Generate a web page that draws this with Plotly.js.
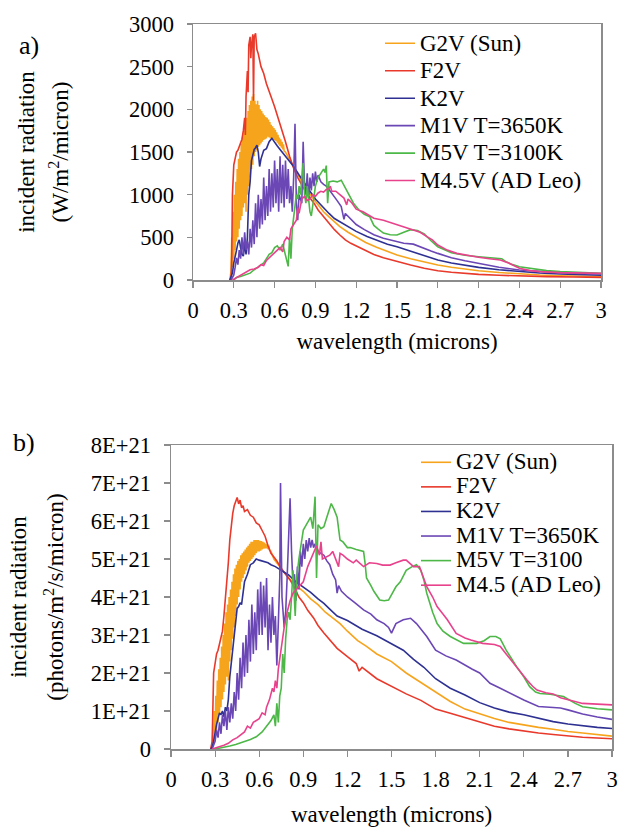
<!DOCTYPE html>
<html>
<head>
<meta charset="utf-8">
<script src="https://cdn.plot.ly/plotly-3.0.1.min.js"></script>
<style>html,body{margin:0;padding:0;background:#fff;}#chart{width:619px;height:827px;}</style>
</head>
<body>
<div id="chart"></div>
<script>
// ---------- series names ----------
const namesA = ['G2V (Sun)', 'F2V', 'K2V', 'M1V T=3650K', 'M5V T=3100K', 'M4.5V (AD Leo)'];
const namesB = ['G2V (Sun)', 'F2V', 'K2V', 'M1V T=3650K', 'M5V T=3100', 'M4.5 (AD Leo)'];

// ---------- panel a) incident radiation, W/m2/micron ----------
const aG2V_x = [0.27,0.280,0.285,0.290,0.295,0.300,0.305,0.310,0.315,0.320,0.325,0.330,0.335,0.340,0.345,0.350,0.355,0.360,0.365,0.370,0.375,0.380,0.385,0.390,0.395,0.400,0.405,0.410,0.415,0.420,0.425,0.430,0.435,0.440,0.445,0.450,0.455,0.460,0.465,0.470,0.475,0.480,0.485,0.490,0.495,0.500,0.505,0.510,0.515,0.520,0.525,0.530,0.535,0.540,0.545,0.550,0.555,0.560,0.565,0.570,0.575,0.580,0.585,0.590,0.595,0.600,0.605,0.610,0.615,0.620,0.625,0.630,0.635,0.640,0.645,0.650,0.655,0.660,0.665,0.670,0.680,0.700,0.72,0.75,0.78,0.81,0.84,0.87,0.90,0.93,0.96,1.00,1.04,1.08,1.14,1.20,1.27,1.35,1.42,1.50,1.60,1.70,1.80,1.90,2.00,2.10,2.25,2.40,2.55,2.70,2.85,3.00];
const aG2V_y = [0,100,500,150,800,250,1000,350,1150,450,1300,500,1420,600,1500,700,1600,750,1680,850,1750,900,1800,800,1900,1000,1980,1100,2050,1200,2100,1300,2150,1350,2180,1450,2100,1500,2060,1520,2100,1560,2050,1580,2000,1600,1980,1620,1950,1640,1930,1650,1910,1660,1900,1680,1880,1670,1850,1660,1820,1650,1800,1650,1780,1640,1760,1630,1730,1610,1700,1590,1670,1570,1650,1550,1620,1530,1590,1510,1500,1440,1380,1290,1200,1120,1050,980,920,860,800,740,680,625,560,500,440,385,340,293,250,210,176,150,128,109,88,70,58,50,44,39];

const aF2V_x = [0.27,0.28,0.285,0.29,0.30,0.31,0.32,0.33,0.34,0.35,0.36,0.37,0.38,0.385,0.39,0.40,0.405,0.41,0.42,0.425,0.43,0.44,0.445,0.45,0.46,0.47,0.48,0.50,0.52,0.54,0.56,0.58,0.60,0.62,0.65,0.68,0.71,0.74,0.77,0.80,0.83,0.86,0.89,0.92,0.95,0.98,1.00,1.04,1.08,1.12,1.16,1.20,1.25,1.33,1.40,1.50,1.60,1.70,1.80,1.90,2.00,2.10,2.25,2.40,2.60,2.80,3.00];
const aF2V_y = [0,0,300,1000,1350,1450,1500,1520,1560,1600,1650,1750,1900,1700,2150,2450,2200,2750,2850,2600,2750,2880,2100,2850,2890,2700,2650,2500,2420,2300,2200,2120,2030,1930,1780,1620,1450,1310,1200,1110,1030,960,900,820,760,700,660,590,527,470,430,400,355,300,260,215,175,137,109,90,76,66,55,47,40,35,31];

const aK2V_x = [0.27,0.29,0.30,0.31,0.32,0.33,0.34,0.35,0.36,0.37,0.38,0.39,0.40,0.41,0.42,0.43,0.44,0.45,0.46,0.47,0.48,0.49,0.50,0.52,0.54,0.56,0.58,0.60,0.62,0.64,0.67,0.70,0.74,0.78,0.82,0.86,0.90,0.95,1.00,1.04,1.08,1.14,1.20,1.28,1.36,1.43,1.50,1.60,1.70,1.80,1.90,2.00,2.10,2.25,2.40,2.55,2.70,2.85,3.00];
const aK2V_y = [0,80,200,300,350,430,470,380,300,280,420,300,500,1000,1150,1400,1480,1530,1550,1580,1500,1330,1420,1520,1540,1620,1660,1610,1570,1530,1470,1420,1330,1230,1130,1040,950,860,780,720,680,620,570,510,460,420,390,340,285,234,200,172,148,120,98,82,70,62,55];

const aM1V_x = [0.28,0.30,0.31,0.32,0.33,0.34,0.35,0.36,0.37,0.38,0.39,0.40,0.41,0.42,0.43,0.44,0.45,0.46,0.47,0.48,0.49,0.50,0.51,0.52,0.53,0.54,0.55,0.56,0.57,0.58,0.59,0.60,0.61,0.62,0.63,0.64,0.65,0.66,0.67,0.68,0.69,0.70,0.71,0.72,0.73,0.74,0.75,0.76,0.77,0.78,0.80,0.81,0.82,0.83,0.84,0.85,0.86,0.87,0.88,0.89,0.90,0.91,0.92,0.94,0.96,0.98,1.00,1.03,1.06,1.09,1.10,1.11,1.12,1.15,1.20,1.26,1.33,1.40,1.50,1.55,1.62,1.68,1.75,1.80,1.90,2.00,2.10,2.25,2.40,2.55,2.70,2.85,3.00];
const aM1V_y = [0,60,150,260,180,350,250,500,300,560,350,450,300,600,380,700,420,900,500,1000,600,950,650,1200,700,1100,750,1300,800,1250,850,1400,900,1300,800,1450,900,1350,850,1400,950,1300,900,1100,800,1200,1830,900,700,1000,900,1620,1100,1000,1250,950,1200,1050,1250,1100,1270,1150,1230,1150,1120,1100,1060,1000,930,860,800,710,780,730,650,590,530,490,450,430,420,380,340,312,260,225,195,150,117,100,86,78,70];

const aM5V_x = [0.30,0.32,0.35,0.38,0.40,0.42,0.45,0.48,0.50,0.52,0.54,0.56,0.58,0.60,0.62,0.64,0.66,0.68,0.70,0.71,0.72,0.73,0.74,0.75,0.76,0.77,0.78,0.79,0.80,0.81,0.82,0.83,0.84,0.85,0.86,0.87,0.88,0.90,0.92,0.94,0.96,0.97,0.98,0.99,1.00,1.03,1.06,1.09,1.12,1.15,1.18,1.22,1.26,1.30,1.33,1.36,1.40,1.45,1.50,1.55,1.60,1.65,1.70,1.75,1.80,1.90,2.00,2.10,2.20,2.27,2.30,2.35,2.40,2.50,2.60,2.70,2.85,3.00];
const aM5V_y = [0,30,40,60,70,80,120,150,180,200,250,300,320,380,400,350,420,300,160,500,250,600,750,900,1000,950,1100,1000,1200,1370,1000,900,1100,950,800,750,850,1100,1200,1250,1300,1260,1340,900,1150,1160,1150,1170,1080,1000,900,820,770,740,640,600,550,530,527,560,590,580,540,460,390,320,290,273,260,250,215,180,156,130,110,98,85,78];

const aM45_x = [0.29,0.32,0.35,0.38,0.40,0.42,0.45,0.48,0.50,0.52,0.54,0.56,0.58,0.60,0.62,0.64,0.66,0.67,0.69,0.71,0.72,0.74,0.76,0.77,0.78,0.80,0.82,0.84,0.86,0.88,0.90,0.92,0.94,0.96,0.98,1.00,1.01,1.02,1.05,1.08,1.11,1.13,1.14,1.17,1.20,1.25,1.33,1.40,1.50,1.55,1.62,1.67,1.72,1.76,1.80,1.87,1.94,2.02,2.10,2.18,2.26,2.32,2.36,2.40,2.48,2.55,2.70,2.85,3.00];
const aM45_y = [0,30,50,80,100,120,130,150,180,170,230,260,300,320,350,380,330,450,500,470,600,650,700,850,780,950,980,930,950,1000,980,1020,1040,1030,1060,1070,1100,1040,1040,1000,960,880,950,900,830,800,723,700,645,620,586,560,508,470,410,350,312,285,266,250,234,200,165,137,110,98,86,80,78];

// ---------- panel b) incident radiation, in units of 1E+21 photons/m2/s/micron ----------
const PHOTON_UNIT = 1e21;
const bG2V_x = [0.275,0.280,0.285,0.290,0.295,0.300,0.305,0.310,0.315,0.320,0.325,0.330,0.335,0.340,0.345,0.350,0.355,0.360,0.365,0.370,0.375,0.380,0.385,0.390,0.395,0.400,0.405,0.410,0.415,0.420,0.425,0.430,0.435,0.440,0.445,0.450,0.455,0.460,0.465,0.470,0.475,0.480,0.485,0.490,0.495,0.500,0.505,0.510,0.515,0.520,0.525,0.530,0.535,0.540,0.545,0.550,0.555,0.560,0.565,0.570,0.575,0.580,0.585,0.590,0.595,0.600,0.605,0.610,0.615,0.620,0.625,0.630,0.635,0.640,0.645,0.650,0.655,0.660,0.665,0.670,0.68,0.70,0.73,0.76,0.80,0.85,0.90,0.95,1.00,1.05,1.10,1.15,1.20,1.27,1.33,1.40,1.50,1.60,1.70,1.80,1.90,2.00,2.10,2.20,2.30,2.40,2.50,2.60,2.70,2.80,2.90,3.00];
const bG2V_y = [0,0.05,0.5,0.2,1.0,0.3,1.4,0.5,1.8,0.7,2.1,0.9,2.4,1.1,2.7,1.3,3.0,1.5,3.3,1.7,3.6,1.9,3.8,1.8,4.0,2.3,4.2,2.6,4.4,2.9,4.6,3.2,4.75,3.5,4.85,3.8,4.95,4.0,5.0,4.2,5.1,4.4,5.15,4.5,5.2,4.6,5.25,4.7,5.3,4.8,5.35,4.9,5.4,4.95,5.45,5.0,5.45,5.05,5.5,5.1,5.5,5.15,5.5,5.2,5.5,5.2,5.48,5.22,5.47,5.25,5.45,5.27,5.43,5.28,5.4,5.28,5.38,5.26,5.35,5.24,5.2,5.0,4.85,4.7,4.5,4.3,4.15,3.95,3.8,3.6,3.45,3.3,3.1,2.85,2.7,2.5,2.3,2.0,1.75,1.5,1.25,1.05,0.92,0.8,0.7,0.63,0.57,0.52,0.46,0.42,0.38,0.34];

const bF2V_x = [0.27,0.28,0.29,0.30,0.31,0.32,0.33,0.34,0.35,0.36,0.37,0.38,0.39,0.40,0.41,0.42,0.43,0.44,0.45,0.46,0.47,0.48,0.49,0.50,0.52,0.54,0.56,0.58,0.60,0.62,0.64,0.66,0.68,0.70,0.72,0.75,0.78,0.81,0.84,0.87,0.90,0.93,0.97,1.00,1.04,1.08,1.13,1.20,1.26,1.28,1.30,1.40,1.50,1.60,1.70,1.80,1.90,2.00,2.10,2.20,2.30,2.40,2.50,2.60,2.70,2.80,2.90,3.00];
const bF2V_y = [0,0.2,2.0,2.3,2.5,2.6,2.8,3.0,3.1,3.5,3.9,4.3,4.9,5.5,5.9,6.2,6.4,6.5,6.62,6.45,6.55,6.35,6.4,6.25,6.3,6.15,6.1,5.95,5.9,5.75,5.6,5.35,5.15,5.05,4.95,4.75,4.6,4.45,4.25,4.0,3.85,3.65,3.45,3.25,3.05,2.87,2.65,2.43,2.25,2.05,2.15,1.85,1.64,1.45,1.28,1.05,0.94,0.82,0.7,0.6,0.53,0.47,0.42,0.38,0.34,0.31,0.29,0.27];

const bK2V_x = [0.27,0.28,0.29,0.30,0.31,0.32,0.33,0.34,0.35,0.36,0.37,0.38,0.39,0.40,0.41,0.42,0.43,0.44,0.45,0.46,0.47,0.48,0.49,0.50,0.52,0.54,0.56,0.58,0.60,0.62,0.64,0.66,0.68,0.71,0.75,0.80,0.85,0.90,0.95,1.00,1.04,1.08,1.13,1.20,1.30,1.40,1.50,1.58,1.65,1.72,1.80,1.90,2.00,2.10,2.20,2.30,2.40,2.50,2.60,2.70,2.80,2.90,3.00];
const bK2V_y = [0,0.05,0.2,0.45,0.65,0.8,0.95,0.9,1.0,0.85,1.1,1.0,1.3,1.9,2.3,2.6,3.1,3.5,3.7,3.75,3.85,3.8,4.2,4.4,4.6,4.85,4.9,5.0,4.97,4.95,4.93,4.9,4.85,4.8,4.7,4.58,4.4,4.27,4.12,3.95,3.83,3.68,3.5,3.38,3.15,2.98,2.78,2.6,2.36,2.15,1.85,1.6,1.42,1.22,1.08,0.97,0.9,0.8,0.72,0.66,0.61,0.57,0.54];

const bM1V_x = [0.28,0.29,0.30,0.31,0.32,0.33,0.34,0.35,0.36,0.37,0.38,0.39,0.40,0.41,0.42,0.43,0.44,0.45,0.46,0.47,0.48,0.49,0.50,0.51,0.52,0.53,0.54,0.55,0.56,0.57,0.58,0.59,0.60,0.61,0.62,0.63,0.64,0.65,0.66,0.67,0.68,0.69,0.70,0.71,0.72,0.73,0.74,0.745,0.755,0.77,0.78,0.79,0.80,0.81,0.82,0.83,0.84,0.85,0.86,0.87,0.88,0.89,0.90,0.91,0.92,0.93,0.94,0.95,0.96,0.97,0.98,1.00,1.02,1.04,1.06,1.08,1.10,1.12,1.13,1.14,1.16,1.20,1.25,1.31,1.36,1.40,1.45,1.48,1.50,1.53,1.58,1.63,1.67,1.70,1.74,1.80,1.87,1.94,2.00,2.05,2.10,2.17,2.24,2.31,2.40,2.50,2.58,2.65,2.70,2.80,2.90,3.00];
const bM1V_y = [0,0.1,0.2,0.5,0.3,0.7,0.4,0.9,0.6,1.0,0.5,1.1,0.7,1.2,0.8,1.5,1.0,2.0,1.3,2.4,1.6,2.8,1.9,3.0,2.0,3.4,2.3,3.8,2.5,3.6,2.6,4.2,3.0,4.4,3.0,4.3,3.2,4.5,2.6,3.8,2.8,4.0,3.0,3.5,2.2,3.3,4.5,7.0,4.0,3.2,3.6,4.5,5.6,6.6,5.2,4.3,4.6,3.9,4.8,4.2,5.2,4.8,5.4,5.0,5.5,5.2,5.55,5.3,5.5,5.3,5.4,5.2,5.15,5.1,4.95,4.85,4.6,4.45,4.1,4.3,4.15,4.0,3.85,3.66,3.55,3.4,3.3,3.2,3.05,3.3,3.4,3.44,3.3,3.15,2.96,2.6,2.45,2.34,2.2,2.1,2.0,1.73,1.6,1.46,1.29,1.12,1.1,1.08,1.03,0.92,0.84,0.78];

const bM5V_x = [0.30,0.33,0.36,0.40,0.44,0.47,0.50,0.54,0.58,0.62,0.65,0.68,0.70,0.71,0.72,0.73,0.74,0.75,0.76,0.77,0.78,0.79,0.80,0.81,0.82,0.83,0.845,0.855,0.87,0.90,0.92,0.95,0.965,0.98,0.99,1.00,1.02,1.04,1.06,1.09,1.11,1.13,1.15,1.17,1.20,1.22,1.26,1.31,1.32,1.33,1.36,1.38,1.42,1.45,1.48,1.53,1.56,1.60,1.64,1.67,1.70,1.72,1.74,1.76,1.78,1.81,1.85,1.90,1.95,1.99,2.04,2.08,2.13,2.17,2.21,2.24,2.28,2.31,2.35,2.40,2.44,2.48,2.51,2.58,2.67,2.75,2.80,2.90,3.00];
const bM5V_y = [0,0.02,0.05,0.08,0.12,0.15,0.2,0.25,0.32,0.45,0.6,0.75,0.9,0.6,1.2,0.7,1.4,1.6,2.5,2.0,2.9,3.4,3.6,3.4,4.0,4.7,3.5,4.5,5.0,5.76,5.9,6.1,5.8,6.64,4.5,5.9,5.8,5.85,6.1,6.46,6.3,6.1,5.5,5.45,5.3,5.3,5.25,5.2,4.9,4.5,4.3,4.15,3.92,3.9,3.92,4.27,4.4,4.7,4.8,4.85,4.7,4.45,4.1,3.83,3.6,3.3,3.1,2.96,2.85,2.78,2.78,2.78,2.85,2.96,2.96,2.9,2.6,2.4,2.17,1.9,1.64,1.5,1.46,1.44,1.38,1.2,1.11,1.06,1.03];

const bM45_x = [0.28,0.30,0.33,0.36,0.39,0.42,0.45,0.48,0.50,0.52,0.54,0.56,0.58,0.60,0.62,0.64,0.65,0.67,0.69,0.70,0.71,0.72,0.73,0.75,0.77,0.79,0.80,0.81,0.83,0.855,0.88,0.90,0.93,0.95,0.97,0.99,1.01,1.02,1.03,1.06,1.08,1.10,1.12,1.14,1.15,1.17,1.20,1.24,1.26,1.31,1.35,1.40,1.44,1.49,1.53,1.58,1.60,1.65,1.69,1.74,1.78,1.81,1.85,1.88,1.94,2.00,2.04,2.12,2.20,2.24,2.28,2.33,2.38,2.42,2.46,2.49,2.55,2.60,2.65,2.71,2.80,2.90,3.00];
const bM45_y = [0,0.02,0.05,0.1,0.15,0.24,0.3,0.4,0.45,0.6,0.55,0.7,0.76,0.8,0.95,0.9,1.1,1.3,1.6,1.5,1.8,1.6,2.1,2.7,3.2,3.6,3.8,3.9,4.1,4.2,4.3,4.4,4.8,5.0,5.2,5.35,5.1,5.45,5.0,5.05,5.1,5.2,5.0,4.8,5.15,5.1,5.0,4.9,4.97,4.8,4.9,4.88,4.84,4.84,4.9,4.97,4.97,4.8,4.8,4.27,4.0,3.75,3.55,3.4,3.04,2.92,2.87,2.78,2.75,2.7,2.5,2.25,2.0,1.82,1.65,1.55,1.48,1.45,1.35,1.29,1.2,1.18,1.16];

// ---------- axis tick labels ----------
const bTickVals = [0,1,2,3,4,5,6,7,8];
const bTickText = ['0','1E+21','2E+21','3E+21','4E+21','5E+21','6E+21','7E+21','8E+21'];

// ---------- styling ----------
const colors = ['#F7A41D', '#E8392B', '#2E3192', '#6B47B5', '#4DB848', '#E8428C'];
const FONT = '"Liberation Serif", "Times New Roman", Times, serif';
const W = 619, H = 827;
const axisGray = '#8c8c8c';
const big = s => '<span style="font-size:23px">' + s + '</span>';

const seriesA = [[aG2V_x,aG2V_y],[aF2V_x,aF2V_y],[aK2V_x,aK2V_y],[aM1V_x,aM1V_y],[aM5V_x,aM5V_y],[aM45_x,aM45_y]];
const seriesB = [[bG2V_x,bG2V_y],[bF2V_x,bF2V_y],[bK2V_x,bK2V_y],[bM1V_x,bM1V_y],[bM5V_x,bM5V_y],[bM45_x,bM45_y]];

const traces = [];
seriesA.forEach((s, i) => traces.push({
  type: 'scatter', mode: 'lines', x: s[0], y: s[1], xaxis: 'x', yaxis: 'y', legend: 'legend',
  name: big(namesA[i]), line: {color: colors[i], width: 1.6}
}));
seriesB.forEach((s, i) => traces.push({
  type: 'scatter', mode: 'lines', x: s[0], y: s[1].map(v => v * PHOTON_UNIT), xaxis: 'x2', yaxis: 'y2', legend: 'legend2',
  name: big(namesB[i]), line: {color: colors[i], width: 1.6}
}));

const tickFont = {family: FONT, size: 22.5, color: '#000'};
const titleFont = {family: FONT, size: 23, color: '#000'};
function xAxis(domain, anchor, standoff) {
  return {domain: domain, anchor: anchor, range: [0, 3], tick0: 0, dtick: 0.3,
    ticks: 'outside', ticklen: 6, tickcolor: axisGray, tickwidth: 1.2,
    showline: true, mirror: true, linecolor: axisGray, linewidth: 1.5,
    showgrid: false, zeroline: false, tickfont: tickFont, ticklabelstandoff: 3,
    title: {text: 'wavelength (microns)', font: titleFont, standoff: standoff}};
}

const layout = {
  width: W, height: H,
  margin: {l: 0, r: 0, t: 0, b: 0},
  paper_bgcolor: '#fff', plot_bgcolor: '#fff',
  font: {family: FONT, color: '#000'},
  showlegend: true,
  xaxis: xAxis([193 / W, 601 / W], 'y', 11),
  yaxis: {domain: [1 - 280 / H, 1 - 24 / H], anchor: 'x', range: [0, 3000], tick0: 0, dtick: 500,
    ticks: 'outside', ticklen: 5, tickcolor: axisGray, tickwidth: 1.2,
    showline: true, mirror: true, linecolor: axisGray, linewidth: 1.5,
    showgrid: false, zeroline: false, tickfont: tickFont, ticklabelstandoff: 8,
    title: {text: big('incident radiation') + '<br>' + big('(W/m<sup>2</sup>/micron)'),
      font: {family: FONT, size: 26.5, color: '#000'}, standoff: 52}},
  xaxis2: xAxis([171 / W, 612 / W], 'y2', 17),
  yaxis2: {domain: [1 - 749 / H, 1 - 445 / H], anchor: 'x2', range: [0, 8e21],
    tickmode: 'array', tickvals: bTickVals.map(v => v * PHOTON_UNIT), ticktext: bTickText,
    ticks: 'outside', ticklen: 6, tickcolor: axisGray, tickwidth: 1.2,
    showline: true, mirror: true, linecolor: axisGray, linewidth: 1.5,
    showgrid: false, zeroline: false, tickfont: tickFont, ticklabelstandoff: 8,
    title: {text: big('incident radiation') + '<br>' + big('(photons/m<sup>2</sup>/s/micron)'),
      font: {family: FONT, size: 29, color: '#000'}, standoff: 18}},
  legend: {x: 380 / W, y: 1 - 24.6 / H, xanchor: 'left', yanchor: 'top',
    bgcolor: 'rgba(0,0,0,0)', borderwidth: 0, font: {family: FONT, size: 18.8, color: '#000'}},
  legend2: {x: 416 / W, y: 1 - 445 / H, xanchor: 'left', yanchor: 'top',
    bgcolor: 'rgba(0,0,0,0)', borderwidth: 0, font: {family: FONT, size: 16.6, color: '#000'}},
  annotations: [
    {text: 'a)', x: 29 / W, y: 1 - 45 / H, xref: 'paper', yref: 'paper', showarrow: false,
      xanchor: 'center', yanchor: 'middle', font: {family: FONT, size: 26, color: '#000'}},
    {text: 'b)', x: 24 / W, y: 1 - 442 / H, xref: 'paper', yref: 'paper', showarrow: false,
      xanchor: 'center', yanchor: 'middle', font: {family: FONT, size: 26, color: '#000'}}
  ]
};

Plotly.newPlot('chart', traces, layout, {displayModeBar: false, staticPlot: true});
</script>
</body>
</html>
